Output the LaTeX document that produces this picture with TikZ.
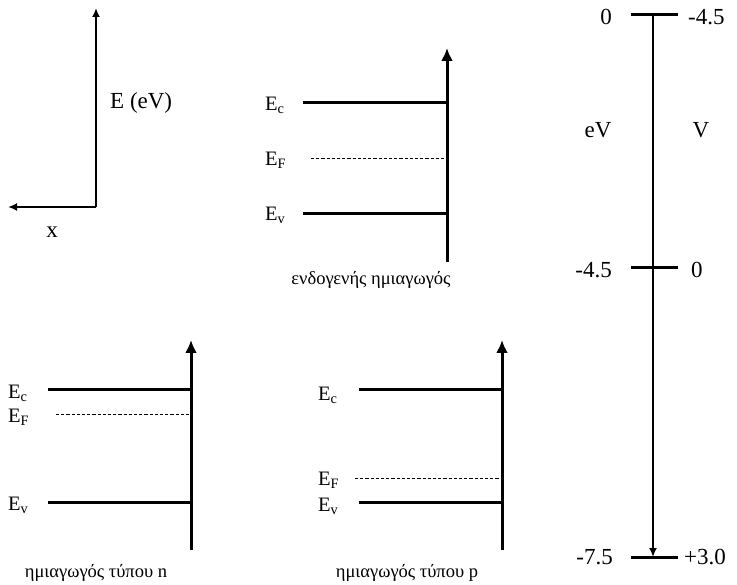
\documentclass[tikz,border=0pt]{standalone}
\usepackage{fontspec}
\setmainfont{Liberation Serif}
\usetikzlibrary{arrows.meta, positioning}
\tikzstyle{axis} = [line width=2pt,-{Latex[length=9pt,width=8pt]}]
\tikzstyle{arrow} = [line width=3pt,-{Latex[length=13pt,width=12pt]}]
\tikzstyle{band} = [line width=3pt]
\tikzstyle{fermi} = [line width=0.9pt, dash pattern=on 3.2pt off 2pt]
\tikzstyle{txt} = [font=\fontsize{23}{26}\selectfont, inner sep=0pt]
\tikzstyle{lvl} = [font=\fontsize{20.5}{23}\selectfont, inner sep=0pt, anchor=west]
\tikzstyle{caption} = [font=\fontsize{18.5}{21}\selectfont, inner sep=0pt]

\begin{document}
\begin{tikzpicture}[x=1pt, y=-1pt, node distance=8pt]
        \useasboundingbox (0,0) rectangle (737,585);

        % axes
        \coordinate (o) at (96,207);
        \coordinate (ytop) at (96,8);
        \coordinate (xleft) at (8,207);
        \draw [axis] (o) -- (ytop);
        \draw [axis] (o) -- (xleft);
        \node (elbl) [txt, anchor=west] at (110,103) {E (eV)};
        \node (xlbl) [txt] at (52,232) {x};

        % intrinsic
        \coordinate (i-bot) at (447,262);
        \coordinate (i-top) at (447,48);
        \coordinate (i-c) at (303,103);
        \coordinate (i-f) at (311,158);
        \coordinate (i-v) at (303,214);
        \draw [arrow] (i-bot) -- (i-top);
        \draw [band] (i-c) -- (i-c -| i-bot);
        \draw [fermi] (i-f) -- (i-f -| i-bot);
        \draw [band] (i-v) -- (i-v -| i-bot);
        \node (i-clbl) [lvl] at (265,105) {E\textsubscript{c}};
        \node (i-flbl) [lvl] at (265,160) {E\textsubscript{F}};
        \node (i-vlbl) [lvl] at (265,215) {E\textsubscript{v}};
        \node (i-name) [caption] at (371,280) {ενδογενής ημιαγωγός};

        % n-type
        \coordinate (n-bot) at (191,550);
        \coordinate (n-top) at (191,340);
        \coordinate (n-c) at (48,390);
        \coordinate (n-f) at (56,414);
        \coordinate (n-v) at (48,502);
        \draw [arrow] (n-bot) -- (n-top);
        \draw [band] (n-c) -- (n-c -| n-bot);
        \draw [fermi] (n-f) -- (n-f -| n-bot);
        \draw [band] (n-v) -- (n-v -| n-bot);
        \node (n-clbl) [lvl] at (8,393) {E\textsubscript{c}};
        \node (n-flbl) [lvl] at (8,417) {E\textsubscript{F}};
        \node (n-vlbl) [lvl] at (8,505) {E\textsubscript{v}};
        \node (n-name) [caption] at (96,573) {ημιαγωγός τύπου n};

        % p-type
        \coordinate (p-bot) at (502,550);
        \coordinate (p-top) at (502,340);
        \coordinate (p-c) at (359,390);
        \coordinate (p-f) at (355,478);
        \coordinate (p-v) at (359,502);
        \draw [arrow] (p-bot) -- (p-top);
        \draw [band] (p-c) -- (p-c -| p-bot);
        \draw [fermi] (p-f) -- (p-f -| p-bot);
        \draw [band] (p-v) -- (p-v -| p-bot);
        \node (p-clbl) [lvl] at (318,395) {E\textsubscript{c}};
        \node (p-flbl) [lvl] at (318,480) {E\textsubscript{F}};
        \node (p-vlbl) [lvl] at (318,506) {E\textsubscript{v}};
        \node (p-name) [caption] at (407,573) {ημιαγωγός τύπου p};

        % scale eV / V
        \coordinate (s-top) at (653,15);
        \coordinate (s-mid) at (653,268);
        \coordinate (s-bot) at (653,557);
        \draw [axis] (s-top) -- (s-bot);
        \draw [band] ([xshift=-22pt]s-top) -- ([xshift=25pt]s-top);
        \draw [band] ([xshift=-22pt]s-mid) -- ([xshift=25pt]s-mid);
        \draw [band] ([xshift=-22pt]s-bot) -- ([xshift=25pt]s-bot);
        \node (ev0) [txt, anchor=east] at (612,17) {0};
        \node (v0) [txt, anchor=west] at (688,17) {-4.5};
        \node (evlbl) [txt] at (598,130) {eV};
        \node (vlbl) [txt] at (701,130) {V};
        \node (ev1) [txt, anchor=east] at (612,270) {-4.5};
        \node (v1) [txt, anchor=west] at (691,270) {0};
        \node (ev2) [txt, anchor=east] at (613,557) {-7.5};
        \node (v2) [txt, anchor=west] at (684,557) {+3.0};
    \end{tikzpicture}
\end{document}
